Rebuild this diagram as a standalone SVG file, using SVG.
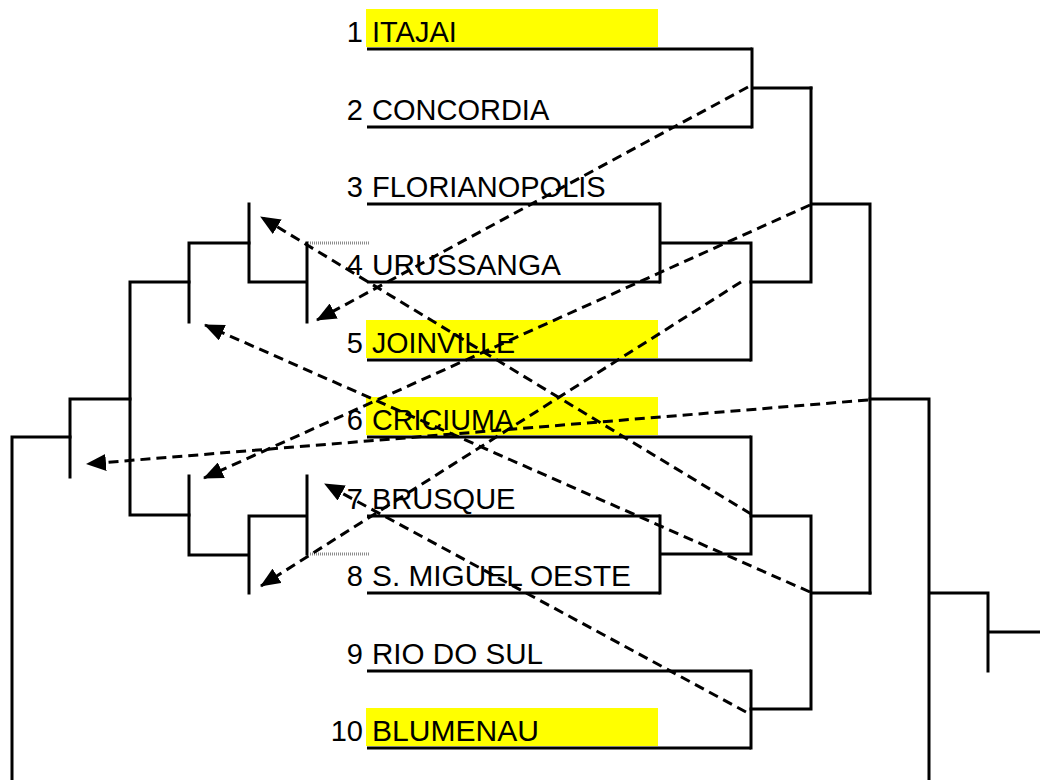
<svg xmlns="http://www.w3.org/2000/svg" width="1040" height="780" viewBox="0 0 1040 780">
<style>
  .hl { fill: #ffff00; }
  .num { font-family: "Liberation Sans", Arial, sans-serif; font-size: 29px; fill: #000; text-anchor: end; }
  .name { font-family: "Liberation Sans", Arial, sans-serif; font-size: 29px; fill: #000; }
  .ul { stroke: #000; stroke-width: 3; fill: none; }
  .br { stroke: #000; stroke-width: 3; fill: none; stroke-linecap: square; stroke-linejoin: miter; }
  .grey { stroke: #8c8c8c; stroke-width: 3; fill: none; stroke-dasharray: 1 1; }
  .arr { stroke: #000; stroke-width: 3; fill: none; stroke-dasharray: 10 6; marker-end: url(#head); }
</style>
<defs>
  <marker id="head" viewBox="0 0 20 17" refX="19" refY="8.5" markerWidth="20" markerHeight="17" orient="auto" markerUnits="userSpaceOnUse">
    <path d="M0,0 L20,8.5 L0,17 z" fill="#000"/>
  </marker>
</defs>
<rect width="1040" height="780" fill="#fff"/>

<g id="team1">
  <rect class="hl" x="366" y="9" width="292" height="38"/>
  <text class="num" x="363" y="41.5">1</text>
  <text class="name" x="372" y="41.5">ITAJAI</text>
  <line class="ul" x1="367" y1="49" x2="752" y2="49"/>
</g>
<g id="team2">
  <text class="num" x="363" y="119.5">2</text>
  <text class="name" x="372" y="119.5">CONCORDIA</text>
  <line class="ul" x1="367" y1="127" x2="752" y2="127"/>
</g>
<g id="team3">
  <text class="num" x="363" y="196.5">3</text>
  <text class="name" x="372" y="196.5">FLORIANOPOLIS</text>
  <line class="ul" x1="367" y1="204" x2="660" y2="204"/>
</g>
<g id="team4">
  <text class="num" x="363" y="274.5">4</text>
  <text class="name" x="372" y="274.5" textLength="189" lengthAdjust="spacingAndGlyphs">URUSSANGA</text>
  <line class="ul" x1="367" y1="282" x2="660" y2="282"/>
</g>
<g id="team5">
  <rect class="hl" x="366" y="320" width="292" height="38"/>
  <text class="num" x="363" y="352.5">5</text>
  <text class="name" x="372" y="352.5" textLength="143" lengthAdjust="spacingAndGlyphs">JOINVILLE</text>
  <line class="ul" x1="367" y1="360" x2="751" y2="360"/>
</g>
<g id="team6">
  <rect class="hl" x="366" y="397" width="292" height="38"/>
  <text class="num" x="363" y="429.5">6</text>
  <text class="name" x="372" y="429.5" textLength="142" lengthAdjust="spacingAndGlyphs">CRICIUMA</text>
  <line class="ul" x1="367" y1="437" x2="751" y2="437"/>
</g>
<g id="team7">
  <text class="num" x="363" y="508.5">7</text>
  <text class="name" x="372" y="508.5">BRUSQUE</text>
  <line class="ul" x1="367" y1="516" x2="660" y2="516"/>
</g>
<g id="team8">
  <text class="num" x="363" y="585.5">8</text>
  <text class="name" x="372" y="585.5" textLength="259" lengthAdjust="spacingAndGlyphs">S. MIGUEL OESTE</text>
  <line class="ul" x1="367" y1="593" x2="660" y2="593"/>
</g>
<g id="team9">
  <text class="num" x="363" y="663.5">9</text>
  <text class="name" x="372" y="663.5" textLength="171" lengthAdjust="spacingAndGlyphs">RIO DO SUL</text>
  <line class="ul" x1="367" y1="671" x2="751" y2="671"/>
</g>
<g id="team10">
  <rect class="hl" x="366" y="708" width="292" height="38"/>
  <text class="num" x="363" y="740.5">10</text>
  <text class="name" x="372" y="740.5" textLength="167" lengthAdjust="spacingAndGlyphs">BLUMENAU</text>
  <line class="ul" x1="367" y1="748" x2="751" y2="748"/>
</g>

<g id="connectors">
  <!-- right bracket -->
  <path class="br" d="M752,49 V127 M752,88 H811"/>
  <path class="br" d="M660,204 V282 M660,243 H751 V360"/>
  <path class="br" d="M751,282 H811 M811,88 V282 M811,204 H870 V593"/>
  <path class="br" d="M751,437 V554 H660 M660,516 V593"/>
  <path class="br" d="M751,516 H811 V709 H751 M811,593 H870"/>
  <path class="br" d="M751,671 V748"/>
  <path class="br" d="M870,399 H929 V782 M929,593 H988 M988,593 V671 M988,632 H1042"/>
  <!-- left mirrored bracket -->
  <path class="br" d="M249,204 V282 H307 M307,243 V322"/>
  <path class="br" d="M189,243 H249 M189,243 V322"/>
  <path class="br" d="M130,282 H189 M130,282 V515 H189"/>
  <path class="br" d="M70,399 H130 M70,399 V477"/>
  <path class="br" d="M12,437 H70 M12,437 V782"/>
  <path class="br" d="M189,476 V555 H249 M249,516 V593 M249,516 H307 M307,476 V554"/>
  <path class="grey" d="M308,243 H369 M308,554 H369"/>
  <!-- dashed arrows -->
  <path class="arr" d="M748,87 L317,320"/>
  <path class="arr" d="M810,205 L204,478"/>
  <path class="arr" d="M741,282 L261,586"/>
  <path class="arr" d="M868,400 L87,464"/>
  <path class="arr" d="M751,514 L261,217"/>
  <path class="arr" d="M810,592 L205,325"/>
  <path class="arr" d="M746,712 L325,484"/>
</g>
</svg>
